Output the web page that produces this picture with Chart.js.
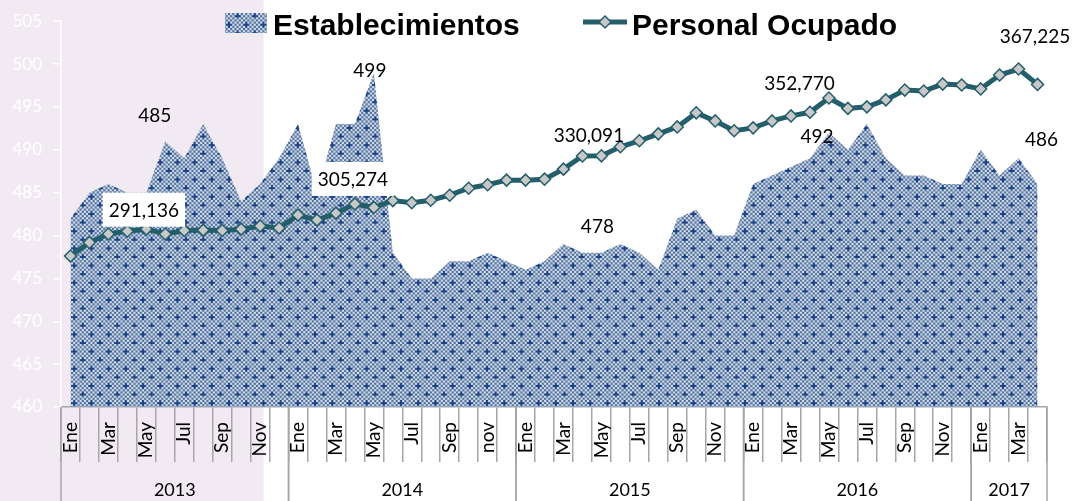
<!DOCTYPE html>
<html>
<head>
<meta charset="utf-8">
<script src="https://cdn.jsdelivr.net/npm/chart.js"></script>
<style>
  html, body { margin: 0; padding: 0; background: #fff; }
  #chart { display: block; }
</style>
</head>
<body>
<canvas id="chart" width="1073" height="501" style="width:1073px;height:501px"></canvas>
<script>
// Month ticks (only odd months are labelled)
const months = [
  'Ene', '', 'Mar', '', 'May', '', 'Jul', '', 'Sep', '', 'Nov', '',
  'Ene', '', 'Mar', '', 'May', '', 'Jul', '', 'Sep', '', 'nov', '',
  'Ene', '', 'Mar', '', 'May', '', 'Jul', '', 'Sep', '', 'Nov', '',
  'Ene', '', 'Mar', '', 'May', '', 'Jul', '', 'Sep', '', 'Nov', '',
  'Ene', '', 'Mar', ''
];
const years = ['2013', '2014', '2015', '2016', '2017'];
const monthsPerYear = [12, 12, 12, 12, 4];

const establecimientos = [
  482, 485, 486, 485, 485, 491, 489, 493, 489, 484, 486, 489,
  493, 485, 493, 493, 499, 478, 475, 475, 477, 477, 478, 477,
  476, 477, 479, 478, 478, 479, 478, 476, 482, 483, 480, 480,
  486, 487, 488, 489, 492, 490, 493, 489, 487, 487, 486, 486,
  490, 487, 489, 486
];

const personalOcupado = [
  278300, 285300, 289700, 291136, 292200, 289700, 291500, 291700, 291500, 292200, 293800, 292800,
  299500, 296900, 300500, 305274, 303400, 307000, 305900, 307200, 309800, 313400, 315200, 317600,
  317600, 318100, 323300, 330091, 330200, 334900, 338000, 341600, 345200, 352500, 348300, 343200,
  344700, 348300, 350900, 352770, 360200, 354800, 355600, 359200, 364300, 363800, 367400, 366900,
  364900, 372100, 375200, 367225
];

const lineColor = '#235e6a';
const gridGrey = '#a6a6a6';

// checker of 2px cells with small dark plus signs
function makePattern() {
  const cells = 8;
  const tile = document.createElement('canvas');
  tile.width = cells * 2;
  tile.height = cells * 2;
  const c = tile.getContext('2d');
  const dark = '#52739f', light = '#d3dbe8', cross = '#1f4586';
  const plus = [[0, 0], [1, 0], [-1, 0], [0, 1], [0, -1]];
  const centers = [[2, 3], [6, 7]];
  for (let j = 0; j < cells; j++) {
    for (let i = 0; i < cells; i++) {
      let col = (i + j) % 2 === 0 ? dark : light;
      centers.forEach(([ci, cj]) => {
        if (plus.some(([a, b]) => ci + a === i && cj + b === j)) col = cross;
      });
      c.fillStyle = col;
      c.fillRect(i * 2, j * 2, 2, 2);
    }
  }
  const p = document.getElementById('chart').getContext('2d').createPattern(tile, 'repeat');
  p.setTransform(new DOMMatrix().scale(1.075));
  return p;
}

const pattern = makePattern();

// lavender band behind the first year
const bandPlugin = {
  id: 'band',
  beforeDraw(chart) {
    const { ctx, scales: { x } } = chart;
    ctx.save();
    ctx.fillStyle = '#f2eaf3';
    ctx.fillRect(0, 0, x.getPixelForValue(10.18), chart.height);
    ctx.restore();
  }
};

// year row under the month ticks
const yearsPlugin = {
  id: 'years',
  afterDraw(chart) {
    const { ctx, scales: { x } } = chart;
    const half = (x.getPixelForValue(1) - x.getPixelForValue(0)) / 2;
    const top = chart.chartArea.bottom;
    ctx.save();
    ctx.strokeStyle = gridGrey;
    ctx.lineWidth = 1.5;
    ctx.fillStyle = '#000';
    ctx.font = '18px Lato';
    ctx.textAlign = 'center';
    ctx.textBaseline = 'middle';
    let start = 0;
    monthsPerYear.forEach((n, k) => {
      const x0 = x.getPixelForValue(start) - half;
      const x1 = x.getPixelForValue(start + n - 1) + half;
      ctx.beginPath();
      ctx.moveTo(x0, top);
      ctx.lineTo(x0, chart.height);
      ctx.moveTo(x1, top);
      ctx.lineTo(x1, chart.height);
      ctx.stroke();
      ctx.fillText(years[k], (x0 + x1) / 2, 490);
      start += n;
    });
    ctx.restore();
  }
};

// value labels: [dataset, index, dx, dy, white box]
const valueLabels = [
  [0, 4, 8.5, -77.5, false],
  [0, 16, -4, -3, false],
  [0, 28, -4, -27, false],
  [0, 40, -12, 3, false],
  [0, 51, 4, -45, false],
  [1, 3, 16.5, -21.5, true],
  [1, 15, -2, -25, true],
  [1, 27, 6.5, -21, false],
  [1, 39, -10.5, -29.5, false],
  [1, 51, -2.5, -48.5, false]
];

const labelsPlugin = {
  id: 'valueLabels',
  afterDatasetsDraw(chart) {
    const ctx = chart.ctx;
    ctx.save();
    ctx.font = '19px Lato';
    ctx.textAlign = 'center';
    ctx.textBaseline = 'middle';
    valueLabels.forEach(([ds, i, dx, dy, box]) => {
      const pt = chart.getDatasetMeta(ds).data[i];
      const value = chart.data.datasets[ds].data[i];
      const text = value.toLocaleString('en-US');
      const cx = pt.x + dx;
      const cy = pt.y + dy;
      if (box) {
        const w = ctx.measureText(text).width + 12;
        ctx.fillStyle = '#fff';
        ctx.fillRect(cx - w / 2, cy - 17, w, 34);
      }
      ctx.fillStyle = '#000';
      ctx.fillText(text, cx, cy + 1);
    });
    ctx.restore();
  }
};

const legendPlugin = {
  id: 'customLegend',
  afterDraw(chart) {
    const ctx = chart.ctx;
    ctx.save();
    ctx.fillStyle = pattern;
    ctx.fillRect(225, 13, 42, 20);
    ctx.strokeStyle = lineColor;
    ctx.lineWidth = 5;
    ctx.beginPath();
    ctx.moveTo(583, 22);
    ctx.lineTo(627, 22);
    ctx.stroke();
    ctx.beginPath();
    ctx.moveTo(605, 16);
    ctx.lineTo(611, 22);
    ctx.lineTo(605, 28);
    ctx.lineTo(599, 22);
    ctx.closePath();
    ctx.fillStyle = '#c8c8c8';
    ctx.fill();
    ctx.lineWidth = 1.5;
    ctx.stroke();
    ctx.fillStyle = '#000';
    ctx.font = 'bold 30px "Liberation Sans"';
    ctx.textBaseline = 'alphabetic';
    ctx.fillText('Establecimientos', 273, 35);
    ctx.fillText('Personal Ocupado', 632, 35);
    ctx.restore();
  }
};

new Chart(document.getElementById('chart'), {
  type: 'line',
  data: {
    labels: months,
    datasets: [
      {
        label: 'Establecimientos',
        data: establecimientos,
        yAxisID: 'y',
        backgroundColor: pattern,
        borderWidth: 0,
        pointRadius: 0,
        fill: 'start',
        tension: 0,
        order: 2
      },
      {
        label: 'Personal Ocupado',
        data: personalOcupado,
        yAxisID: 'y2',
        borderColor: lineColor,
        borderWidth: 5,
        pointStyle: 'rectRot',
        pointRadius: 6,
        pointBackgroundColor: '#c8c8c8',
        pointBorderColor: lineColor,
        pointBorderWidth: 1.5,
        fill: false,
        tension: 0,
        order: 1
      }
    ]
  },
  options: {
    responsive: false,
    animation: false,
    layout: { padding: { left: 0, right: 26, top: 20, bottom: 0 } },
    plugins: {
      legend: { display: false },
      tooltip: { enabled: false }
    },
    scales: {
      x: {
        offset: true,
        grid: {
          offset: true,
          drawOnChartArea: false,
          tickLength: 55,
          color: gridGrey,
          lineWidth: 1.5
        },
        border: { display: true, color: gridGrey, width: 1.5 },
        ticks: {
          autoSkip: false,
          minRotation: 90,
          maxRotation: 90,
          padding: -40,
          color: '#000',
          font: { family: 'Lato', size: 19 }
        },
        afterFit(scale) { scale.height = 94; }
      },
      y: {
        position: 'left',
        min: 460,
        max: 505,
        ticks: {
          stepSize: 5,
          padding: 11,
          color: '#fff',
          font: { family: 'Lato', size: 17 }
        },
        grid: {
          drawOnChartArea: false,
          tickLength: 8,
          color: '#fff',
          lineWidth: 1.5
        },
        border: { display: true, color: '#fff', width: 1.5 },
        afterFit(scale) { scale.width = 61; }
      },
      y2: {
        display: false,
        min: 200000,
        max: 400000
      }
    }
  },
  plugins: [bandPlugin, labelsPlugin, yearsPlugin, legendPlugin]
});
</script>
</body>
</html>
